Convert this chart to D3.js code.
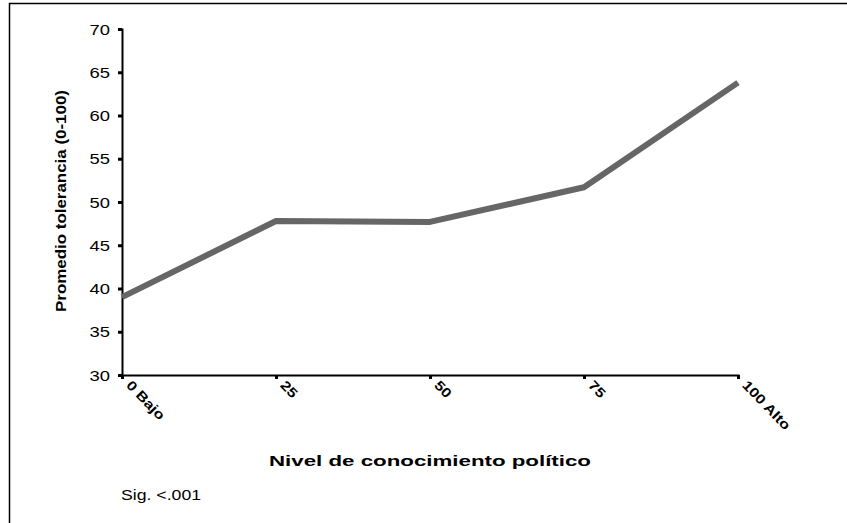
<!DOCTYPE html>
<html><head><meta charset="utf-8">
<script src="https://cdn.jsdelivr.net/npm/d3@7/dist/d3.min.js"></script>
<style>body{margin:0;background:#fff}svg{display:block}text{font-family:"Liberation Sans",Arial,sans-serif;fill:#000}</style>
</head><body>
<svg id="c" width="847" height="523"></svg>
<script>
const categories = ["0 Bajo", "25", "50", "75", "100 Alto"];
const xValues = [0, 25, 50, 75, 100];
const tolerance = [39.0, 47.8, 47.7, 51.7, 63.8];
const yTicks = [30, 35, 40, 45, 50, 55, 60, 65, 70];
const xTitle = "Nivel de conocimiento político";
const yTitle = "Promedio tolerancia (0-100)";
const note = "Sig. <.001";

const svg = d3.select("#c");
// frame
svg.append("path").attr("d","M9.5,523V3.5H847").attr("fill","none").attr("stroke","#000").attr("stroke-width",1.5);

const x = d3.scaleLinear().domain([0,100]).range([122,738]);
const y = d3.scaleLinear().domain([30,70]).range([375,29]);

// y axis
const ya = svg.append("g").attr("transform","translate(122,0)")
  .call(d3.axisLeft(y).tickValues(yTicks).tickSize(4).tickPadding(8));
ya.select(".domain").attr("stroke","#000").attr("stroke-width",2);
ya.selectAll(".tick line").attr("stroke","#000").attr("stroke-width",3);
ya.selectAll(".tick text")
  .attr("x",0).attr("dy","0.36em")
  .attr("transform","translate(-12,0) scale(1.27,1)")
  .style("font-size","14.5px").style("font-family","Liberation Sans, Arial, sans-serif").attr("fill","#000");

// x axis
const xa = svg.append("g").attr("transform","translate(0,375)")
  .call(d3.axisBottom(x).tickValues(xValues).tickSize(4).tickFormat((d,i)=>categories[i]));
xa.select(".domain").attr("stroke","#000").attr("stroke-width",2);
xa.selectAll(".tick line").attr("stroke","#000").attr("stroke-width",3);
xa.selectAll(".tick text")
  .attr("y",0).attr("dy",0)
  .attr("text-anchor","start")
  .attr("transform","translate(3,11) rotate(46) scale(1.2,1)")
  .style("font-size","13.5px").style("font-weight","bold").style("font-family","Liberation Sans, Arial, sans-serif").attr("fill","#000");

// line
const line = d3.line().x((d,i)=>x(xValues[i])).y(d=>y(d));
svg.append("path").datum(tolerance).attr("d",line)
  .attr("fill","none").attr("stroke","#666").attr("stroke-width",6).attr("stroke-linejoin","round");

// titles
svg.append("text").attr("x",430).attr("y",466).attr("text-anchor","middle")
  .style("font-size","15px").style("font-weight","bold")
  .attr("textLength",322).attr("lengthAdjust","spacingAndGlyphs").text(xTitle);
svg.append("text").attr("transform","translate(66,201) rotate(-90)").attr("text-anchor","middle")
  .style("font-size","14px").style("font-weight","bold")
  .attr("textLength",222).attr("lengthAdjust","spacingAndGlyphs").text(yTitle);
svg.append("text").attr("transform","translate(121,500) scale(1.22,1)").style("font-size","14.5px").text(note);
</script>
</body></html>
